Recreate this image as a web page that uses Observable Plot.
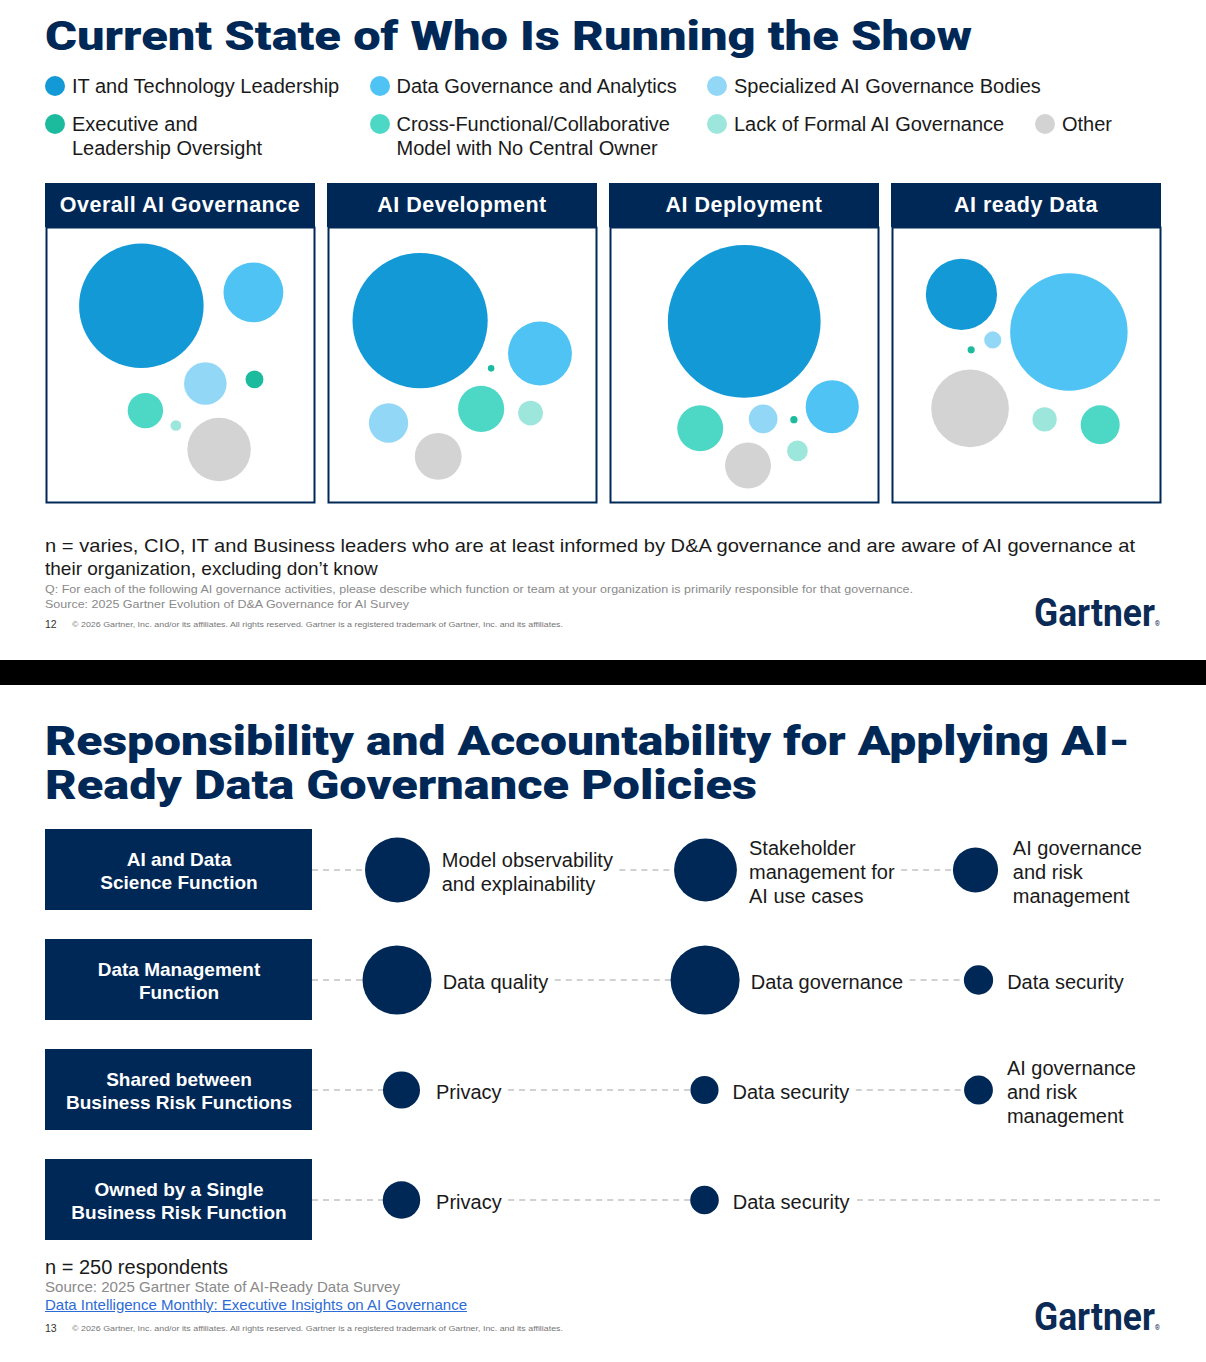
<!DOCTYPE html>
<html>
<head>
<meta charset="utf-8">
<script src="https://cdn.jsdelivr.net/npm/d3@7"></script>
<script src="https://cdn.jsdelivr.net/npm/@observablehq/plot@0.6"></script>
<style>
  body { margin: 0; background: #fff; }
  #page { position: relative; width: 1206px; height: 1362px; overflow: hidden;
          font-family: "Liberation Sans", Arial, sans-serif; color: #1a1a1a; background: #fff; }
  .t { position: absolute; white-space: pre; transform-origin: 0 50%; }
  .title { font-family: Roboto, "DejaVu Sans", sans-serif; font-weight: 900; color: #002856; }
  .hdr { position: absolute; background: #002856; color: #fff; font-weight: bold; font-size: 21.5px;
         letter-spacing: 0.5px; display: flex; align-items: center; justify-content: center; padding-top: 1px; box-sizing: border-box; }
  .dot { position: absolute; border-radius: 50%; }
  .logo { font-family: Roboto, "DejaVu Sans", sans-serif; font-weight: 700; color: #0b2a55; }
  .abs { position: absolute; }
</style>
</head>
<body>
<div id="page"></div>
<script>
// ---------------- DATA ----------------
// Slide 1: who is primarily responsible (share of respondents, %)
const categories = [
  "IT and Technology Leadership",
  "Data Governance and Analytics",
  "Specialized AI Governance Bodies",
  "Executive and\nLeadership Oversight",
  "Cross-Functional/Collaborative\nModel with No Central Owner",
  "Lack of Formal AI Governance",
  "Other"
];
const panels = ["Overall AI Governance", "AI Development", "AI Deployment", "AI ready Data"];
const shareOverall     = [58.1, 13.4, 6.8, 1.2, 4.7, 0.43, 15.1];
const shareDevelopment = [68.5, 15.3, 5.8, 0.16, 8.0, 2.3, 8.2];
const shareDeployment  = [87.5, 10.6, 3.1, 0.2, 7.9, 1.6, 7.9];
const shareAIReadyData = [19.0, 51.7, 1.1, 0.19, 5.7, 2.2, 22.6];

// Slide 2: responsibility by function (relative weight of each policy area)
const functions = [
  "AI and Data\nScience Function",
  "Data Management\nFunction",
  "Shared between\nBusiness Risk Functions",
  "Owned by a Single\nBusiness Risk Function"
];
const aiDataSciencePolicies  = [["Model observability\nand explainability", 31], ["Stakeholder\nmanagement for\nAI use cases", 29], ["AI governance\nand risk\nmanagement", 15]];
const dataManagementPolicies = [["Data quality", 35], ["Data governance", 35], ["Data security", 6.3]];
const sharedRiskPolicies     = [["Privacy", 10.1], ["Data security", 5.8], ["AI governance\nand risk\nmanagement", 6.1]];
const singleRiskPolicies     = [["Privacy", 10.3], ["Data security", 6.0]];

// ---------------- LAYOUT & STYLE ----------------
const NAVY = "#002856";
const catColors = ["#1399d6", "#4ec3f4", "#93d7f7", "#1cbb9e", "#4dd8c6", "#9de6dc", "#d3d3d3"];
// bubble placement inside each panel (percent of panel body width / height)
const spots = [
  [[35.5,28.7],[77.0,23.9],[59.2,56.9],[77.4,55.4],[37.0,66.7],[48.3,72.1],[64.3,80.8]],
  [[34.3,34.1],[78.7,46.0],[22.6,71.2],[60.6,51.4],[56.9,66.1],[75.2,67.6],[41.0,83.3]],
  [[49.9,34.4],[82.5,65.3],[56.9,69.7],[68.3,70.0],[33.6,73.1],[69.6,81.3],[51.3,86.6]],
  [[25.9,24.6],[65.7,38.2],[37.5,41.1],[29.5,44.7],[77.3,71.8],[56.7,69.9],[29.1,65.9]]
];
const shares = [shareOverall, shareDevelopment, shareDeployment, shareAIReadyData];
const panelLeft = [45, 327, 609, 891];
const legendCols = [45, 369.5, 707, 1035];
const legendSlots = [[0,0],[1,0],[2,0],[0,1],[1,1],[2,1],[3,1]];

const page = document.getElementById("page");

function text(str, x, yc, o = {}) {
  const el = document.createElement("div");
  el.className = "t " + (o.cls || "");
  const size = o.size || 20, lh = o.lh || Math.round(size * 1.2);
  el.style.left = x + "px";
  el.style.top = (yc - lh / 2) + "px";
  el.style.fontSize = size + "px";
  el.style.lineHeight = lh + "px";
  if (o.weight) el.style.fontWeight = o.weight;
  if (o.color) el.style.color = o.color;
  if (o.ls) el.style.letterSpacing = o.ls;
  if (o.deco) el.style.textDecoration = o.deco;
  if (o.html) el.innerHTML = str; else el.textContent = str;
  page.appendChild(el);
  if (o.fit) {
    const w = el.getBoundingClientRect().width;
    el.style.transform = `scaleX(${o.fit / w})`;
  }
  return el;
}

// ---------------- SLIDE 1 ----------------
text("Current State of Who Is Running the Show", 45, 37, {cls: "title", size: 40, lh: 44, fit: 927});

categories.forEach((c, i) => {
  const [col, row] = legendSlots[i];
  const x = legendCols[col], yc = row === 0 ? 86 : 124;
  const d = document.createElement("div");
  d.className = "dot";
  Object.assign(d.style, {left: x + "px", top: (yc - 10.5) + "px", width: "20px", height: "20px", background: catColors[i]});
  page.appendChild(d);
  text(c, x + 27, yc, {size: 20, lh: 24, color: "#1a1a1a"});
});

panels.forEach((name, pi) => {
  const L = panelLeft[pi];
  const h = document.createElement("div");
  h.className = "hdr";
  Object.assign(h.style, {left: L + "px", top: "183px", width: "270px", height: "44px"});
  h.textContent = name;
  page.appendChild(h);

  const data = categories.map((c, i) => ({cat: c, share: shares[pi][i], x: spots[pi][i][0], y: spots[pi][i][1]}));
  const chart = Plot.plot({
    width: 270, height: 277, margin: 0,
    x: {domain: [0, 100], range: [0, 270], axis: null},
    y: {domain: [0, 100], range: [0, 276], axis: null},
    r: {domain: [0, 100], range: [0, 81.67]},
    color: {domain: categories, range: catColors},
    style: {background: "transparent", overflow: "visible"},
    marks: [
      Plot.frame({stroke: NAVY, strokeWidth: 2, inset: 1}),
      Plot.dot(data, {x: "x", y: "y", r: "share", fill: "cat"})
    ]
  });
  chart.classList.add("abs");
  chart.style.left = L + "px";
  chart.style.top = "226px";
  page.appendChild(chart);
});

text("n = varies, CIO, IT and Business leaders who are at least informed by D&A governance and are aware of AI governance at", 45, 545, {size: 19, lh: 23, fit: 1090});
text("their organization, excluding don\u2019t know", 45, 568, {size: 19, lh: 23});
text("Q: For each of the following AI governance activities, please describe which function or team at your organization is primarily responsible for that governance.", 45, 588.5, {size: 11.5, lh: 14, color: "#8a8a8a", fit: 868});
text("Source: 2025 Gartner Evolution of D&A Governance for AI Survey", 45, 603.5, {size: 11.5, lh: 14, color: "#8a8a8a", fit: 364});
text("12", 45, 624, {size: 10.5, lh: 12, color: "#333"});
text("\u00a9 2026 Gartner, Inc. and/or its affiliates. All rights reserved. Gartner is a registered trademark of Gartner, Inc. and its affiliates.", 72, 625, {size: 7.5, lh: 10, color: "#777", fit: 491});
text('Gartner<span style="font-size:7px;font-weight:400">\u00ae</span>', 1034, 613, {cls: "logo", size: 38, lh: 40, fit: 126, html: true});

// black divider
const bar = document.createElement("div");
Object.assign(bar.style, {position: "absolute", left: 0, top: "660px", width: "1206px", height: "25px", background: "#000"});
page.appendChild(bar);

// ---------------- SLIDE 2 ----------------
text("Responsibility and Accountability for Applying AI-", 45, 742, {cls: "title", size: 40, lh: 44, fit: 1085});
text("Ready Data Governance Policies", 45, 786, {cls: "title", size: 40, lh: 44, fit: 712});

const BOX_L = 45, BOX_R = 312, LINE_END = 1162;
const colXByRow = [[397, 705, 975], [396.5, 704.6, 978], [401, 704, 978], [401, 704, 978]];
const rPx = d3.scaleSqrt().domain([0, 36]).range([0, 35]);
const ctx = document.createElement("canvas").getContext("2d");
ctx.font = "20px 'Liberation Sans'";
const maxW = s => Math.max(...s.split("\n").map(l => ctx.measureText(l).width));

const rowsPolicies = [aiDataSciencePolicies, dataManagementPolicies, sharedRiskPolicies, singleRiskPolicies];
const items = [], segments = [];
rowsPolicies.forEach((list, ri) => {
  const fn = functions[ri], colX = colXByRow[ri];
  list.forEach(([label, w], ci) => {
    const r = rPx(w);
    const gap = r < 16 ? 14 : 11 + 0.3 * (35 - r);
    const cx = colX[ci], tx = cx + r + gap;
    items.push({fn, label, w, cx, tx});
    const start = ci === 0 ? BOX_R : items[items.length - 2].tx + maxW(items[items.length - 2].label) + 7;
    segments.push({fn, x1: start, x2: cx});
  });
  if (list.length < colX.length) {
    const last = items[items.length - 1];
    segments.push({fn, x1: last.tx + maxW(last.label) + 8, x2: LINE_END});
  }
});

const diagram = Plot.plot({
  width: 1206, height: 440, margin: 0,
  x: {domain: [0, 1206], range: [0, 1206], axis: null},
  y: {type: "band", domain: functions, range: [8, 420], paddingInner: 0.266, paddingOuter: 0, axis: null},
  r: {domain: [0, 36], range: [0, 35]},
  style: {background: "transparent", overflow: "visible", fontFamily: "'Liberation Sans', Arial, sans-serif"},
  marks: [
    Plot.barX(functions, {y: d => d, x1: BOX_L, x2: BOX_R, fill: NAVY}),
    Plot.ruleY(segments, {y: "fn", x1: "x1", x2: "x2", stroke: "#c2c2c2", strokeWidth: 1.6, strokeDasharray: "6,5"}),
    Plot.dot(items, {x: "cx", y: "fn", r: "w", fill: NAVY}),
    Plot.text(items, {x: "tx", y: "fn", text: "label", textAnchor: "start", lineAnchor: "middle", fontSize: 20, lineHeight: 1.2, fill: "#1a1a1a", dy: 1}),
    Plot.text(functions, {x: (BOX_L + BOX_R) / 2, y: d => d, text: d => d, fill: "white", fontWeight: "bold", fontSize: 19, lineHeight: 1.25, lineAnchor: "middle", dy: 0, ariaLabel: "box-label"})
  ]
});
diagram.classList.add("abs");
diagram.style.left = "0px";
diagram.style.top = "820px";
page.appendChild(diagram);
d3.select(diagram).selectAll('g[aria-label="box-label"] text').style("letter-spacing", "0.5px");

text("n = 250 respondents", 45, 1267, {size: 20, lh: 24, fit: 183});
text("Source: 2025 Gartner State of AI-Ready Data Survey", 45, 1287, {size: 14.5, lh: 17, color: "#8a8a8a", fit: 355});
text("Data Intelligence Monthly: Executive Insights on AI Governance", 45, 1305, {size: 14.5, lh: 17, color: "#2d6bd6", deco: "underline", fit: 422});
text("13", 45, 1328, {size: 10.5, lh: 12, color: "#333"});
text("\u00a9 2026 Gartner, Inc. and/or its affiliates. All rights reserved. Gartner is a registered trademark of Gartner, Inc. and its affiliates.", 72, 1329, {size: 7.5, lh: 10, color: "#777", fit: 491});
text('Gartner<span style="font-size:7px;font-weight:400">\u00ae</span>', 1034, 1317, {cls: "logo", size: 38, lh: 40, fit: 126, html: true});
</script>
</body>
</html>
